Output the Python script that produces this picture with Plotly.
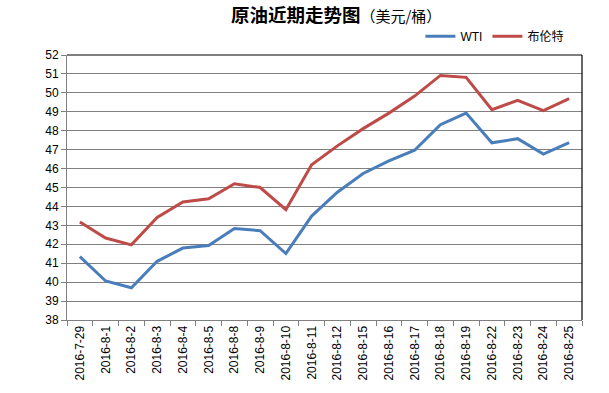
import plotly.graph_objects as go

dates = ["2016-7-29", "2016-8-1", "2016-8-2", "2016-8-3", "2016-8-4", "2016-8-5",
         "2016-8-8", "2016-8-9", "2016-8-10", "2016-8-11", "2016-8-12", "2016-8-15",
         "2016-8-16", "2016-8-17", "2016-8-18", "2016-8-19", "2016-8-22", "2016-8-23",
         "2016-8-24", "2016-8-25"]
wti = [41.35, 40.06, 39.7, 41.1, 41.8, 41.93, 42.83, 42.72, 41.51, 43.49, 44.75,
       45.74, 46.41, 46.97, 48.32, 48.93, 47.36, 47.58, 46.77, 47.37]
brent = [43.18, 42.33, 41.97, 43.42, 44.24, 44.4, 45.2, 45.0, 43.83, 46.2, 47.2,
         48.11, 48.93, 49.83, 50.92, 50.82, 49.11, 49.6, 49.06, 49.7]
yticks = list(range(38, 53))

fig = go.Figure()
fig.add_trace(go.Scatter(x=dates, y=wti, name="WTI", mode="lines",
                         line=dict(color="#4A7EBB", width=3)))
fig.add_trace(go.Scatter(x=dates, y=brent, name="布伦特", mode="lines",
                         line=dict(color="#BE4B48", width=3)))

fig.update_layout(
    width=609, height=393,
    margin=dict(l=67, r=27, t=55, b=73, autoexpand=False),
    paper_bgcolor="white", plot_bgcolor="white",
    font=dict(family="Liberation Sans, Noto Sans CJK SC", size=12, color="black"),
    title=dict(text="<b>原油近期走势图</b><span style='font-size:15px'>（美元/桶）</span>",
               x=0.552, xanchor="center", y=0.96, yanchor="middle",
               font=dict(family="Noto Sans CJK SC", size=18.5, color="black")),
    showlegend=True,
    legend=dict(orientation="h", xref="container", yref="container",
                x=0.935, xanchor="right", y=0.908, yanchor="middle",
                font=dict(family="Liberation Sans, Noto Sans CJK SC", size=12),
                bgcolor="rgba(0,0,0,0)", traceorder="normal",
                itemwidth=30, tracegroupgap=0),
    xaxis=dict(type="category", tickangle=-90, tickson="boundaries",
               ticks="outside", ticklen=5, tickcolor="#808080",
               showline=True, linecolor="#808080", linewidth=1,
               showgrid=False, range=[-0.5, 19.5], automargin=False,
               tickfont=dict(family="Liberation Sans", size=12)),
    yaxis=dict(range=[38, 52], tickvals=yticks, ticks="outside", ticklen=5,
               tickcolor="#808080", showline=True, linecolor="#808080", linewidth=1,
               showgrid=True, gridcolor="#808080", gridwidth=1, automargin=False,
               zeroline=False, tickfont=dict(family="Liberation Sans", size=12)),
    shapes=[
        dict(type="line", xref="paper", yref="paper", x0=0, x1=1, y0=1, y1=1,
             line=dict(color="black", width=1.2)),
        dict(type="line", xref="paper", yref="paper", x0=1, x1=1, y0=0, y1=1,
             line=dict(color="black", width=1.2)),
    ],
)

fig.write_html("out.html", config={"displayModeBar": False},
               post_script="document.body.style.margin='0';")
